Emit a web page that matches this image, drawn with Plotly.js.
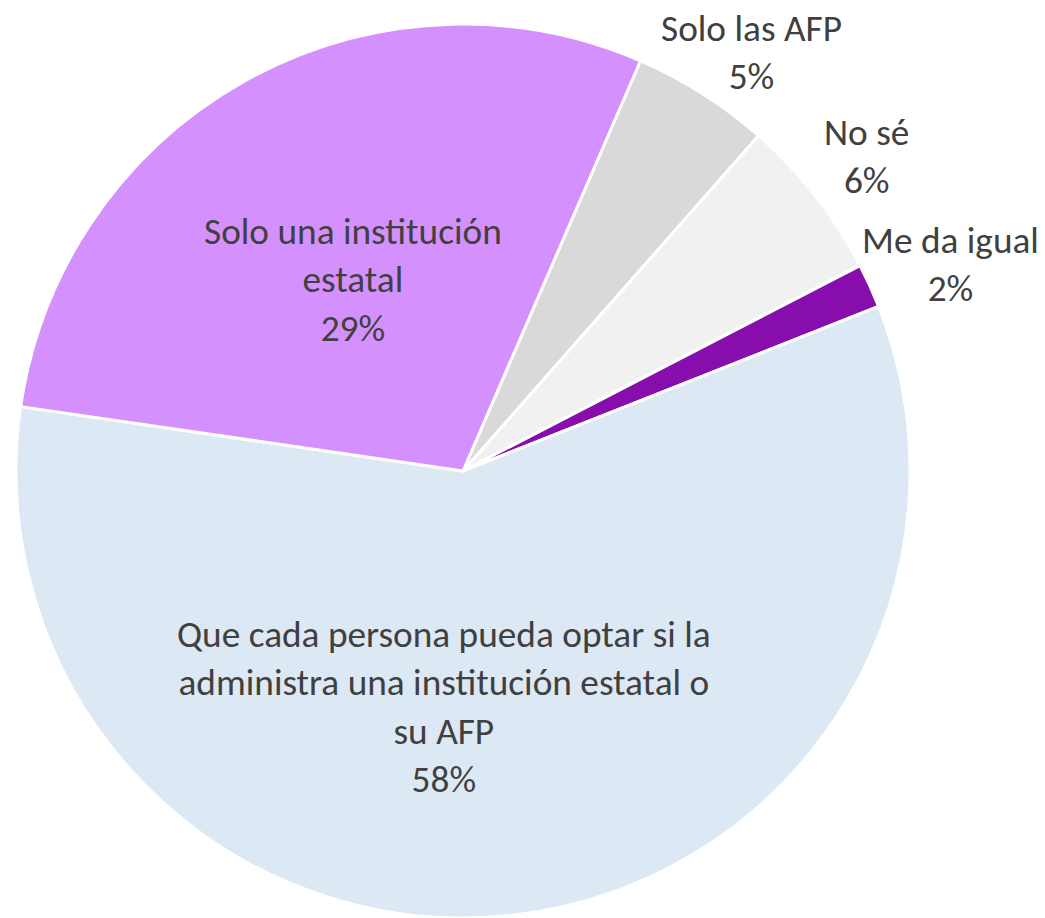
<!DOCTYPE html>
<html>
<head>
<meta charset="utf-8">
<script src="https://cdn.plot.ly/plotly-3.0.1.min.js"></script>
<style>html,body{margin:0;padding:0;background:#fff;}#chart{width:1045px;height:918px;}</style>
</head>
<body>
<div id="chart"></div>
<script>
// Data (clockwise from the top)
const categories = [
  "Solo las AFP",
  "No sé",
  "Me da igual",
  "Que cada persona pueda optar si la administra una institución estatal o su AFP",
  "Solo una institución estatal"
];
const displayLabels = [
  "Solo las AFP",
  "No sé",
  "Me da igual",
  "Que cada persona pueda optar si la<br>administra una institución estatal o<br>su AFP",
  "Solo una institución<br>estatal"
];
const shares = [5.0, 5.9, 1.6, 58.3, 29.2];
const sliceColors = ["#D9D9D9", "#F1F1F1", "#870EAC", "#DDE8F5", "#D490FC"];

// Label placement (pixel centres of each label block in the 1045x918 canvas)
const labelCentersPx = [[751, 52], [866, 156], [950, 264], [444, 706], [353, 279]];

const fontFamily = "Calibri, Carlito, Lato, 'Liberation Sans', Arial, sans-serif";
const fontSize = 37.3;
const textColor = "#404040";

const W = 1045, H = 918;
const margin = { l: 15, r: 134, t: 24, b: 0 };
const plotW = W - margin.l - margin.r;
const plotH = H - margin.t - margin.b;

const total = shares.reduce((a, b) => a + b, 0);

const annotations = displayLabels.map((lab, i) => ({
  xref: "paper",
  yref: "paper",
  x: (labelCentersPx[i][0] - margin.l) / plotW,
  y: (H - margin.b - labelCentersPx[i][1]) / plotH,
  xanchor: "center",
  yanchor: "middle",
  align: "center",
  showarrow: false,
  text: lab + "<br>" + Math.round(100 * shares[i] / total) + "%",
  font: { family: fontFamily, size: fontSize, color: textColor }
}));

const trace = {
  type: "pie",
  labels: categories,
  values: shares,
  textinfo: "none",
  sort: false,
  direction: "clockwise",
  rotation: 23.4,
  marker: { colors: sliceColors, line: { color: "#FFFFFF", width: 3 } },
  hoverinfo: "label+percent",
  showlegend: false
};

const layout = {
  width: W,
  height: H,
  margin: margin,
  paper_bgcolor: "#FFFFFF",
  plot_bgcolor: "#FFFFFF",
  showlegend: false,
  font: { family: fontFamily, color: textColor },
  annotations: annotations
};

Plotly.newPlot("chart", [trace], layout, { displayModeBar: false, staticPlot: true });
</script>
</body>
</html>
